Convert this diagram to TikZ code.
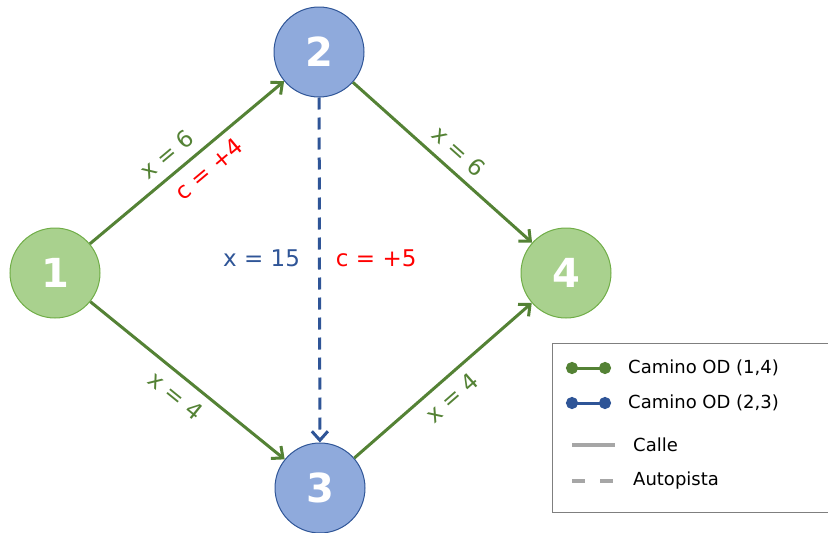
\documentclass[tikz,border=0pt]{standalone}
\usepackage{fontspec}
\setmainfont{DejaVu Sans}
\usetikzlibrary{arrows.meta, positioning}
\definecolor{verdeOD}{HTML}{548235}
\definecolor{verdeNodo}{HTML}{A9D18E}
\definecolor{bordeVerde}{HTML}{70AD47}
\definecolor{azulOD}{HTML}{2F5597}
\definecolor{azulNodo}{HTML}{8FAADC}
\definecolor{grisLeyenda}{HTML}{A6A6A6}
\definecolor{marcoLeyenda}{HTML}{7F7F7F}
\tikzset{
	nodoverde/.style={circle, minimum size=90pt, inner sep=0pt, draw=bordeVerde, line width=1pt, fill=verdeNodo, text=white, font=\fontsize{40}{40}\selectfont\bfseries},
	nodoazul/.style={circle, minimum size=90pt, inner sep=0pt, draw=azulOD, line width=1pt, fill=azulNodo, text=white, font=\fontsize{40}{40}\selectfont\bfseries},
	calle/.style={line width=3pt, draw=verdeOD, -{Straight Barb[length=9pt, width=16pt]}},
	autopista/.style={line width=3pt, draw=azulOD, dash pattern=on 12pt off 8pt, -{Straight Barb[length=9pt, width=16pt]}},
	etiqueta/.style={font=\fontsize{23}{23}\selectfont, sloped, inner sep=9pt},
	leyenda/.style={anchor=west, font=\fontsize{18}{18}\selectfont, inner sep=0pt}
}
\begin{document}
\begin{tikzpicture}[x=1pt, y=-1pt]
		\useasboundingbox (0,0) rectangle (828,533);
		% Nodos de la red
		\node (n1) [nodoverde] at (55,273) {1};
		\node (n2) [nodoazul] at (319,52) {2};
		\node (n3) [nodoazul] at (320,488) {3};
		\node (n4) [nodoverde] at (566,273) {4};
		
		% Arcos del camino OD (1,4)
		\draw [calle] (n1) -- node[etiqueta, above, pos=0.46, text=verdeOD] {x = 6} node[etiqueta, below, pos=0.55, text=red] {c = +4} (n2);
		\draw [calle] (n2) -- node[etiqueta, above, pos=0.52, text=verdeOD] {x = 6} (n4);
		\draw [calle] (n1) -- node[etiqueta, below, pos=0.5, text=verdeOD] {x = 4} (n3);
		\draw [calle] (n3) -- node[etiqueta, below, pos=0.48, text=verdeOD] {x = 4} (n4);
		
		% Autopista del camino OD (2,3)
		\draw [autopista] (n2) -- node[etiqueta, left, pos=0.465, text=azulOD, sloped=false, inner sep=18pt] {x = 15} node[etiqueta, right, pos=0.465, text=red, sloped=false, inner sep=15pt] {c = +5} (n3);
		
		% Leyenda
		\node (marco) [draw=marcoLeyenda, line width=1pt, minimum width=276pt, minimum height=169pt, anchor=north west, inner sep=0pt] at (552,343) {};
		\coordinate (v1) at (566,368);
		\coordinate (v2) at (611,368);
		\coordinate (a1) at (566,403);
		\coordinate (a2) at (611,403);
		\coordinate (c1) at (572,445);
		\coordinate (c2) at (615,445);
		\coordinate (p1) at (572,481);
		\coordinate (p2) at (615,481);
		\draw [line width=3pt, verdeOD, {Circle[length=12pt]}-{Circle[length=12pt]}] (v1) -- (v2);
		\draw [line width=3pt, azulOD, {Circle[length=12pt]}-{Circle[length=12pt]}] (a1) -- (a2);
		\draw [line width=3.5pt, grisLeyenda] (c1) -- (c2);
		\draw [line width=3.5pt, grisLeyenda, dash pattern=on 13pt off 15pt] (p1) -- (p2);
		\node (t1) [leyenda] at (628,368) {Camino OD (1,4)};
		\node (t2) [leyenda] at (628,403) {Camino OD (2,3)};
		\node (t3) [leyenda] at (633,445) {Calle};
		\node (t4) [leyenda] at (633,481) {Autopista};
	\end{tikzpicture}
\end{document}
